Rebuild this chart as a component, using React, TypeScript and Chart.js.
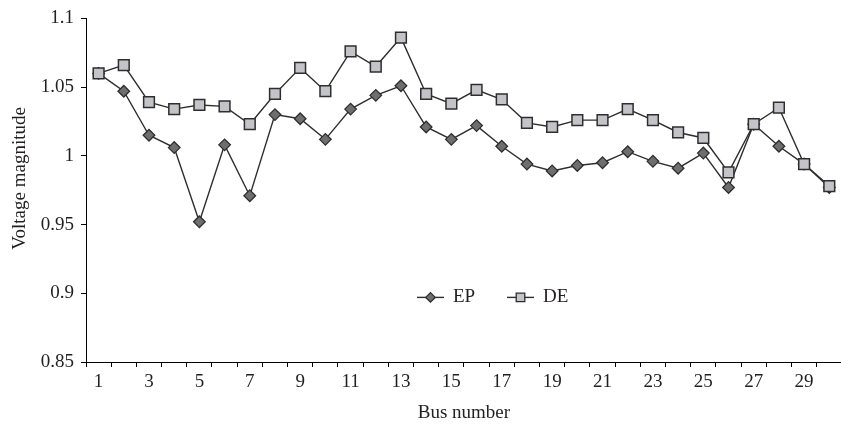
import React, { useEffect, useRef } from "react";
import { Chart, registerables } from "chart.js";

Chart.register(...registerables);

const busNumbers = ["1","2","3","4","5","6","7","8","9","10","11","12","13","14","15","16","17","18","19","20","21","22","23","24","25","26","27","28","29","30"];

const epValues = [1.060, 1.047, 1.015, 1.006, 0.952, 1.008, 0.971, 1.030, 1.027, 1.012, 1.034, 1.044, 1.051, 1.021, 1.012, 1.022, 1.007, 0.994, 0.989, 0.993, 0.995, 1.003, 0.996, 0.991, 1.002, 0.977, 1.023, 1.007, 0.994, 0.977];

const deValues = [1.060, 1.066, 1.039, 1.034, 1.037, 1.036, 1.023, 1.045, 1.064, 1.047, 1.076, 1.065, 1.086, 1.045, 1.038, 1.048, 1.041, 1.024, 1.021, 1.026, 1.026, 1.034, 1.026, 1.017, 1.013, 0.988, 1.023, 1.035, 0.994, 0.978];

const seriesNames = ["EP", "DE"];
const yTitle = "Voltage magnitude";
const xTitle = "Bus number";

const FONT = "'Liberation Serif', 'Times New Roman', serif";
const TEXT = "#231f20";
const LINE = "#2e2e2e";
const EP_FILL = "#6d6e70";
const DE_FILL = "#c3c4c8";

const legendPlugin = {
  id: "insideLegend",
  afterDraw(chart: any) {
    const { ctx, chartArea } = chart;
    const y = chartArea.top + 279;
    const items = [
      { name: seriesNames[0], x: chartArea.left + 331, shape: "diamond", fill: EP_FILL },
      { name: seriesNames[1], x: chartArea.left + 421, shape: "square", fill: DE_FILL },
    ];
    ctx.save();
    for (const it of items) {
      ctx.strokeStyle = LINE;
      ctx.lineWidth = 1.4;
      ctx.beginPath();
      ctx.moveTo(it.x, y);
      ctx.lineTo(it.x + 27, y);
      ctx.stroke();
      const cx = it.x + 13.5;
      ctx.fillStyle = it.fill;
      ctx.lineWidth = 1.3;
      ctx.beginPath();
      if (it.shape === "diamond") {
        const r = 4.8;
        ctx.moveTo(cx, y - r);
        ctx.lineTo(cx + r, y);
        ctx.lineTo(cx, y + r);
        ctx.lineTo(cx - r, y);
        ctx.closePath();
      } else {
        const h = 4.3;
        ctx.rect(cx - h, y - h, 2 * h, 2 * h);
      }
      ctx.fill();
      ctx.stroke();
      ctx.fillStyle = TEXT;
      ctx.font = `19px ${FONT}`;
      ctx.textBaseline = "middle";
      ctx.textAlign = "left";
      ctx.fillText(it.name, it.x + 36, y);
    }
    // y-axis title (slightly above the plot's vertical centre, as in the reference)
    ctx.translate(20, chartArea.top + 160);
    ctx.rotate(-Math.PI / 2);
    ctx.textAlign = "center";
    ctx.textBaseline = "middle";
    ctx.fillStyle = TEXT;
    ctx.font = `19px ${FONT}`;
    ctx.fillText(yTitle, 0, 0);
    ctx.restore();
  },
};

export default function App() {
  const canvasRef = useRef<HTMLCanvasElement | null>(null);

  useEffect(() => {
    const canvas = canvasRef.current;
    if (!canvas) return;
    const chart = new Chart(canvas, {
      type: "line",
      data: {
        labels: busNumbers,
        datasets: [
          {
            label: seriesNames[0],
            data: epValues,
            borderColor: LINE,
            borderWidth: 1.4,
            backgroundColor: EP_FILL,
            pointStyle: "rectRot",
            pointRadius: 5.8,
            pointBorderWidth: 1.3,
            pointBorderColor: LINE,
            pointBackgroundColor: EP_FILL,
            tension: 0,
            order: 1,
          },
          {
            label: seriesNames[1],
            data: deValues,
            borderColor: LINE,
            borderWidth: 1.4,
            backgroundColor: DE_FILL,
            pointStyle: "rect",
            pointRadius: 7.6,
            pointBorderWidth: 1.5,
            pointBorderColor: LINE,
            pointBackgroundColor: DE_FILL,
            tension: 0,
            order: 0,
          },
        ],
      },
      options: {
        responsive: false,
        animation: false,
        devicePixelRatio: 1,
        layout: { padding: { top: 15, left: 0, right: 0, bottom: 0 } },
        plugins: {
          legend: { display: false },
          tooltip: { enabled: false },
        },
        scales: {
          x: {
            type: "category",
            offset: true,
            afterFit(scale: any) {
              scale.height = 65;
            },
            grid: {
              offset: true,
              drawOnChartArea: false,
              drawTicks: true,
              tickLength: 5,
              color: "#000",
            },
            border: { display: true, color: "#000", width: 1 },
            ticks: {
              autoSkip: false,
              maxRotation: 0,
              padding: 4,
              color: TEXT,
              font: { family: FONT, size: 19 },
              callback: (_v: any, i: number) => (i % 2 === 0 ? busNumbers[i] : ""),
            },
            title: {
              display: true,
              text: xTitle,
              color: TEXT,
              font: { family: FONT, size: 19 },
              padding: { top: 0, bottom: 3 },
            },
          },
          y: {
            min: 0.85,
            max: 1.1,
            afterFit(scale: any) {
              scale.width = 86;
            },
            grid: {
              drawOnChartArea: false,
              drawTicks: true,
              tickLength: 5,
              color: "#000",
            },
            border: { display: true, color: "#000", width: 1 },
            ticks: {
              stepSize: 0.05,
              padding: 7,
              color: TEXT,
              font: { family: FONT, size: 19 },
              callback: (v: any) => String(Number(Number(v).toFixed(2))),
            },
            title: { display: false },
          },
        },
      },
      plugins: [legendPlugin],
    });
    return () => chart.destroy();
  }, []);

  return (
    <div
      style={{
        position: "absolute",
        left: 0,
        top: 0,
        width: 841,
        height: 427,
        overflow: "hidden",
        background: "#fff",
      }}
    >
      <canvas ref={canvasRef} width={851} height={427} style={{ width: 851, height: 427, display: "block" }} />
    </div>
  );
}
